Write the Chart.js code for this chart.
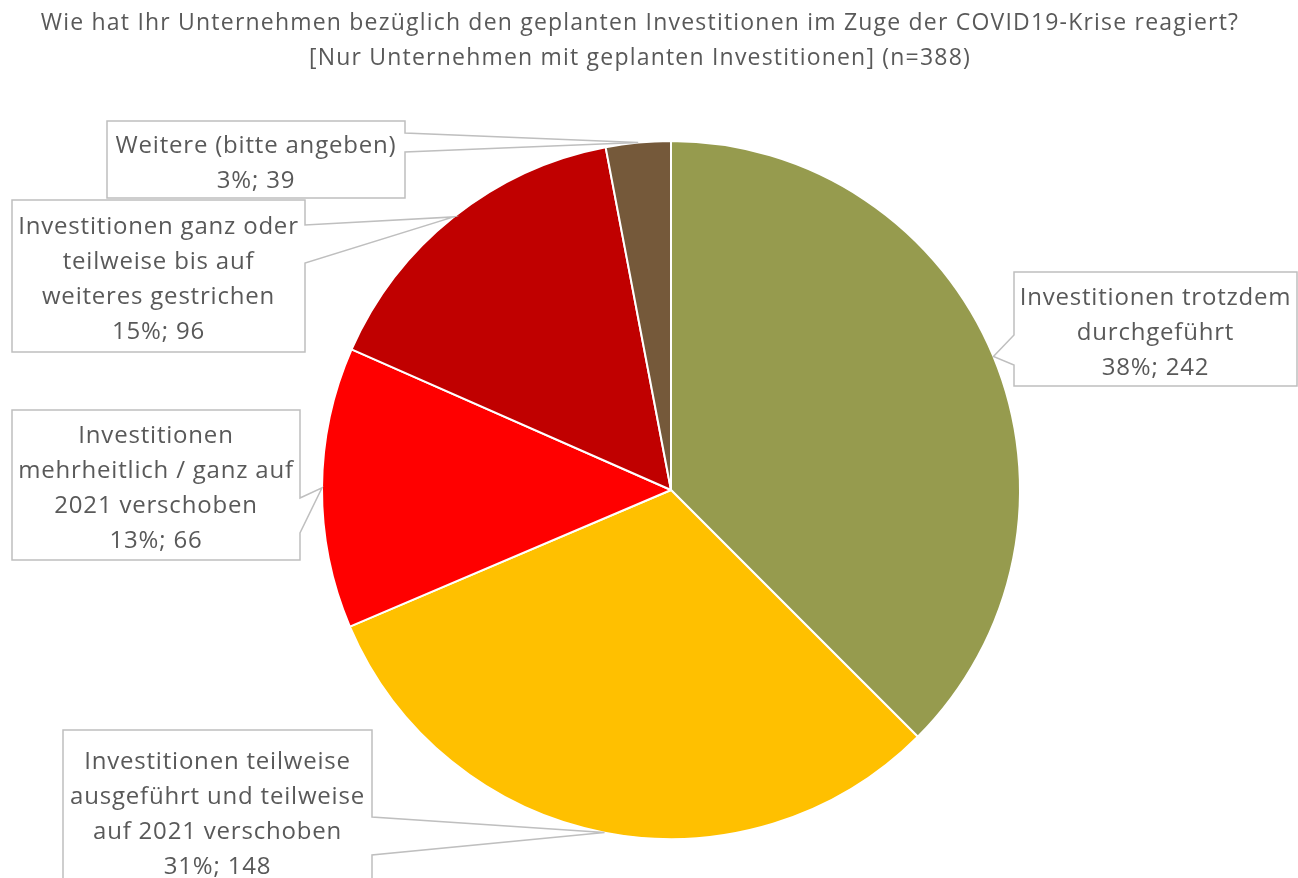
<!DOCTYPE html>
<html>
<head>
<meta charset="utf-8">
<script src="https://cdn.jsdelivr.net/npm/chart.js@4.4.1/dist/chart.umd.min.js"></script>
<style>
  html, body { margin: 0; background: #fff; }
</style>
</head>
<body>
<canvas id="pie" width="1298" height="878"></canvas>
<script>
const titleLines = [
  'Wie hat Ihr Unternehmen bezüglich den geplanten Investitionen im Zuge der COVID19-Krise reagiert?',
  '[Nur Unternehmen mit geplanten Investitionen] (n=388)'
];
const labels = [
  ['Investitionen trotzdem', 'durchgeführt'],
  ['Investitionen teilweise', 'ausgeführt und teilweise', 'auf 2021 verschoben'],
  ['Investitionen', 'mehrheitlich / ganz auf', '2021 verschoben'],
  ['Investitionen ganz oder', 'teilweise bis auf', 'weiteres gestrichen'],
  ['Weitere (bitte angeben)']
];
// share of the pie in percent (as drawn), and number of answers
const shares = [37.5, 31.1, 13.0, 15.4, 3.0];
const counts = [242, 148, 66, 96, 39];
const colors = ['#969B4E', '#FFC000', '#FF0000', '#C00000', '#75593A'];

// callout boxes, same order as the slices
const boxes = [
  { x: 1014, y: 272, w: 283, h: 114, side: 'left',  b1: 335, b2: 365 },
  { x: 63,   y: 730, w: 309, h: 162, side: 'right', b1: 817, b2: 855 },
  { x: 12,   y: 410, w: 288, h: 150, side: 'right', b1: 498, b2: 533 },
  { x: 12,   y: 200, w: 293, h: 152, side: 'right', b1: 225, b2: 263 },
  { x: 107,  y: 121, w: 298, h: 77,  side: 'right', b1: 133, b2: 152 }
];

const textColor = '#595959';
const fontFamily = '"Open Sans", "Noto Sans", sans-serif';

const callouts = {
  id: 'callouts',
  afterDatasetsDraw(chart) {
    const ctx = chart.ctx;
    const meta = chart.getDatasetMeta(0);
    ctx.save();

    // title
    ctx.fillStyle = textColor;
    ctx.font = '23px ' + fontFamily;
    ctx.letterSpacing = '1.2px';
    ctx.textAlign = 'center';
    ctx.textBaseline = 'middle';
    titleLines.forEach((t, i) => ctx.fillText(t, 640, 23 + i * 35));

    meta.data.forEach((arc, i) => {
      const p = arc.getProps(['x', 'y', 'startAngle', 'endAngle', 'outerRadius'], true);
      const mid = (p.startAngle + p.endAngle) / 2;
      const tx = p.x + Math.cos(mid) * p.outerRadius;
      const ty = p.y + Math.sin(mid) * p.outerRadius;
      const b = boxes[i];

      ctx.beginPath();
      if (b.side === 'right') {
        ctx.moveTo(b.x, b.y);
        ctx.lineTo(b.x + b.w, b.y);
        ctx.lineTo(b.x + b.w, b.b1);
        ctx.lineTo(tx, ty);
        ctx.lineTo(b.x + b.w, b.b2);
        ctx.lineTo(b.x + b.w, b.y + b.h);
        ctx.lineTo(b.x, b.y + b.h);
      } else {
        ctx.moveTo(b.x, b.y);
        ctx.lineTo(b.x + b.w, b.y);
        ctx.lineTo(b.x + b.w, b.y + b.h);
        ctx.lineTo(b.x, b.y + b.h);
        ctx.lineTo(b.x, b.b2);
        ctx.lineTo(tx, ty);
        ctx.lineTo(b.x, b.b1);
      }
      ctx.closePath();
      ctx.fillStyle = '#fff';
      ctx.fill();
      ctx.strokeStyle = '#BFBFBF';
      ctx.lineWidth = 1.5;
      ctx.stroke();

      const lines = labels[i].concat(Math.round(shares[i]) + '%; ' + counts[i]);
      const lh = 35;
      const y0 = b.y + (b.h - lines.length * lh) / 2 + lh / 2 + 4;
      ctx.fillStyle = textColor;
      ctx.font = '24px ' + fontFamily;
      ctx.letterSpacing = '0.8px';
      lines.forEach((t, k) => ctx.fillText(t, b.x + b.w / 2, y0 + k * lh));
    });
    ctx.restore();
  }
};

new Chart(document.getElementById('pie'), {
  type: 'pie',
  data: {
    labels: labels,
    datasets: [{
      data: shares,
      backgroundColor: colors,
      borderColor: '#fff',
      borderWidth: 2,
      radius: 349
    }]
  },
  options: {
    responsive: false,
    animation: false,
    events: [],
    layout: { padding: { left: 44, right: 0, top: 110, bottom: 8 } },
    plugins: {
      legend: { display: false },
      tooltip: { enabled: false },
      title: { display: false }
    }
  },
  plugins: [callouts]
});
</script>
</body>
</html>
